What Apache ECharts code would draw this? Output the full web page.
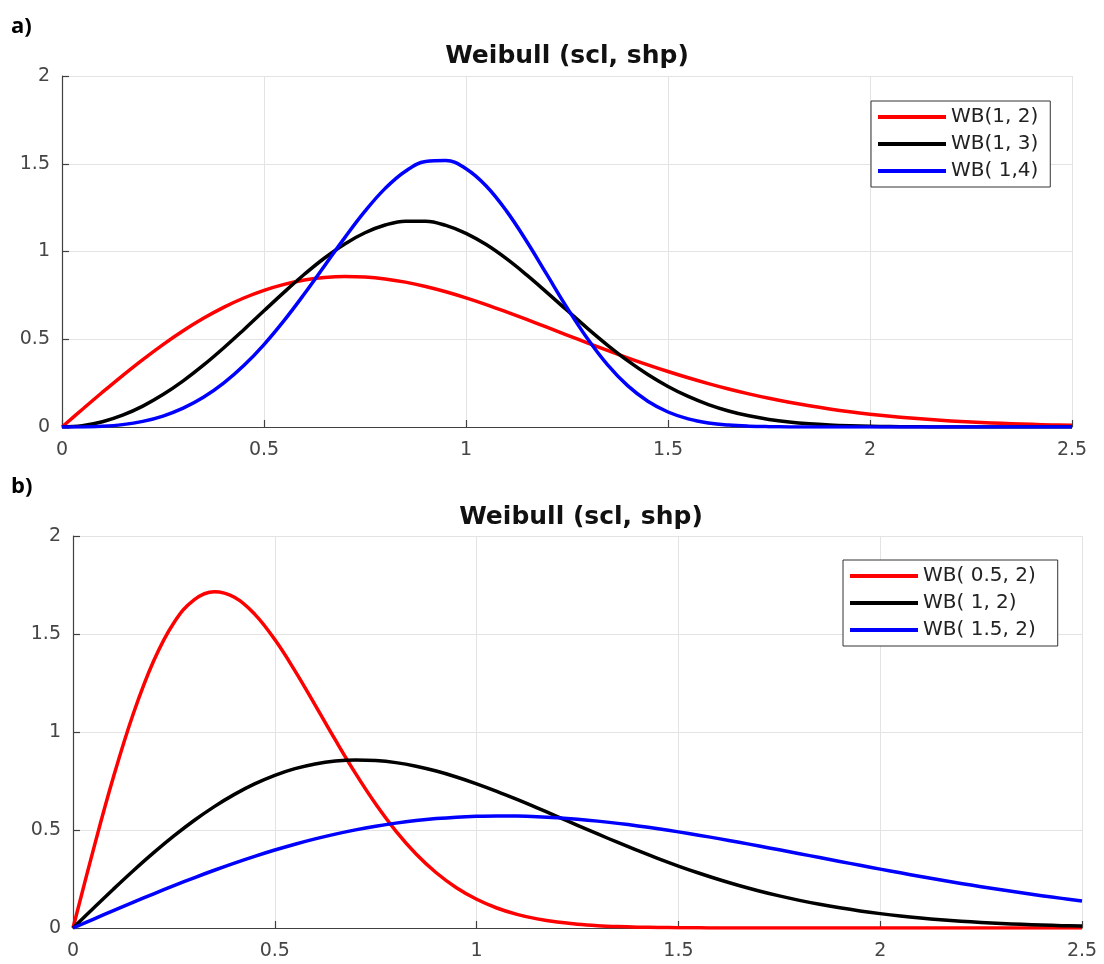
<!DOCTYPE html>
<html>
<head>
<meta charset="utf-8">
<script src="https://cdn.jsdelivr.net/npm/echarts@6/dist/echarts.min.js"></script>
<style>
  html, body { margin: 0; padding: 0; background: #fff; }
  #chart { width: 1104px; height: 964px; }
</style>
</head>
<body>
<div id="chart"></div>
<script>
// x positions shared by every curve (0 .. 2.5 step 0.05)
var xs = [0,0.05,0.1,0.15,0.2,0.25,0.3,0.35,0.4,0.45,0.5,0.55,0.6,0.65,0.7,0.75,0.8,0.85,0.9,0.95,
  1,1.05,1.1,1.15,1.2,1.25,1.3,1.35,1.4,1.45,1.5,1.55,1.6,1.65,1.7,1.75,1.8,1.85,1.9,1.95,
  2,2.05,2.1,2.15,2.2,2.25,2.3,2.35,2.4,2.45,2.5];

// panel a
var namesA = ['WB(1, 2)', 'WB(1, 3)', 'WB( 1,4)'];
var wb1_2 = [0,0.0998,0.198,0.2933,0.3843,0.4697,0.5484,0.6193,0.6817,0.735,0.7788,0.8129,0.8372,0.852,0.8577,0.8547,0.8437,0.8254,0.8007,0.7706,
  0.7358,0.6973,0.656,0.6129,0.5686,0.524,0.4797,0.4364,0.3944,0.3542,0.3162,0.2805,0.2474,0.2168,0.189,0.1637,0.141,0.1207,0.1028,0.087,
  0.0733,0.0613,0.0511,0.0423,0.0348,0.0285,0.0232,0.0188,0.0151,0.0121,0.0097];
var wb1_3 = [0,0.0075,0.03,0.0673,0.119,0.1846,0.2628,0.3521,0.4502,0.5546,0.6619,0.7684,0.8702,0.9631,1.0431,1.1067,1.1507,1.1729,1.1722,1.1487,
  1.1036,1.0393,0.9591,0.8669,0.7674,0.6649,0.5636,0.467,0.3781,0.2992,0.231,0.174,0.1278,0.0915,0.0637,0.0432,0.0285,0.0183,0.0114,0.0069,
  0.004,0.0023,0.0013,0.0007,0.0003,0.0002,0.0001,0,0,0,0];
var wb1_4 = [0,0.0005,0.004,0.0135,0.0319,0.0623,0.1071,0.1689,0.2495,0.3499,0.4697,0.6073,0.759,0.9189,1.0792,1.2298,1.3597,1.4575,1.513,1.5188,
  1.4715,1.3732,1.2313,1.0583,0.8693,0.6801,0.5054,0.3552,0.2355,0.1467,0.0855,0.0464,0.0233,0.0109,0.0046,0.0018,0.0006,0.0002,0.0001,0,
  0,0,0,0,0,0,0,0,0,0,0];

// panel b
var namesB = ['WB( 0.5, 2)', 'WB( 1, 2)', 'WB( 1.5, 2)'];
var wb05_2 = [0,0.396,0.7686,1.0967,1.3634,1.5576,1.6744,1.7154,1.6873,1.6015,1.4715,1.3121,1.1373,0.9595,0.7888,0.6324,0.4947,0.3779,0.282,0.2056,
  0.1465,0.1021,0.0696,0.0464,0.0302,0.0193,0.0121,0.0074,0.0044,0.0026,0.0015,0.0008,0.0005,0.0002,0.0001,0,0,0,0,0,
  0,0,0,0,0,0,0,0,0,0,0];
var wb1_2b = wb1_2;
var wb15_2 = [0,0.0444,0.0885,0.132,0.1746,0.2161,0.2562,0.2946,0.3312,0.3656,0.3977,0.4274,0.4545,0.4789,0.5005,0.5192,0.5351,0.548,0.5581,0.5655,
  0.5699,0.5718,0.5711,0.5679,0.5624,0.5548,0.5453,0.5338,0.5208,0.5063,0.4905,0.4736,0.4559,0.4374,0.4183,0.3988,0.3791,0.3593,0.3395,0.3198,
  0.3005,0.2815,0.2629,0.245,0.2275,0.2108,0.1947,0.1795,0.1649,0.1512,0.1382];

var colors = ['#ff0000', '#000000', '#0000ff'];

function pairs(ys) {
  return xs.map(function (x, i) { return [x, ys[i]]; });
}

var chart = echarts.init(document.getElementById('chart'));

var axisCommon = {
  type: 'value',
  min: 0,
  interval: 0.5,
  axisLine: { show: true, lineStyle: { color: '#404040', width: 1.2 } },
  axisTick: { show: true, inside: true, length: 7, lineStyle: { color: '#404040', width: 1.2 } },
  splitLine: { show: true, lineStyle: { color: '#e3e3e3', width: 1 } },
  axisLabel: { color: '#454545', fontSize: 19, fontFamily: 'DejaVu Sans' }
};

function xAx(idx) {
  return Object.assign({}, axisCommon, { gridIndex: idx, max: 2.5,
    axisLabel: Object.assign({}, axisCommon.axisLabel, { margin: 14 }) });
}
function yAx(idx) {
  return Object.assign({}, axisCommon, { gridIndex: idx, max: 2,
    axisLabel: Object.assign({}, axisCommon.axisLabel, { margin: 12 }) });
}

function mkSeries(name, ys, c, idx) {
  return {
    name: name,
    type: 'line',
    xAxisIndex: idx,
    yAxisIndex: idx,
    data: pairs(ys),
    showSymbol: false,
    smooth: 0.4,
    color: c,
    lineStyle: { color: c, width: 3.5, join: 'round' },
    animation: false
  };
}

var legendCommon = {
  orient: 'vertical',
  icon: 'rect',
  itemWidth: 68,
  itemHeight: 4,
  itemGap: 5,
  borderColor: '#333',
  borderWidth: 1,
  backgroundColor: '#fff',
  textStyle: { fontSize: 20, lineHeight: 22, color: '#222', fontFamily: 'DejaVu Sans' }
};

var option = {
  animation: false,
  title: [
    { text: 'Weibull (scl, shp)', left: 562, top: 39, textAlign: 'center',
      textStyle: { fontSize: 25, fontWeight: 'bold', color: '#111', fontFamily: 'DejaVu Sans' } },
    { text: 'Weibull (scl, shp)', left: 576, top: 500, textAlign: 'center',
      textStyle: { fontSize: 25, fontWeight: 'bold', color: '#111', fontFamily: 'DejaVu Sans' } }
  ],
  graphic: [
    { type: 'text', left: 11, top: 16, style: { text: 'a)', font: 'bold 22px "Open Sans"', fill: '#000' } },
    { type: 'text', left: 11, top: 476, style: { text: 'b)', font: 'bold 22px "Open Sans"', fill: '#000' } }
  ],
  legend: [
    Object.assign({}, legendCommon, { data: namesA, left: 871, top: 101, padding: [5, 12, 5, 7] }),
    Object.assign({}, legendCommon, { data: namesB, left: 843, top: 560, padding: [5, 22, 5, 7] })
  ],
  grid: [
    { left: 62, top: 76, width: 1010, height: 351 },
    { left: 73, top: 536, width: 1009, height: 392 }
  ],
  xAxis: [xAx(0), xAx(1)],
  yAxis: [yAx(0), yAx(1)],
  series: [
    mkSeries(namesA[0], wb1_2, colors[0], 0),
    mkSeries(namesA[1], wb1_3, colors[1], 0),
    mkSeries(namesA[2], wb1_4, colors[2], 0),
    mkSeries(namesB[0], wb05_2, colors[0], 1),
    mkSeries(namesB[1], wb1_2b, colors[1], 1),
    mkSeries(namesB[2], wb15_2, colors[2], 1)
  ]
};

chart.setOption(option);
</script>
</body>
</html>
